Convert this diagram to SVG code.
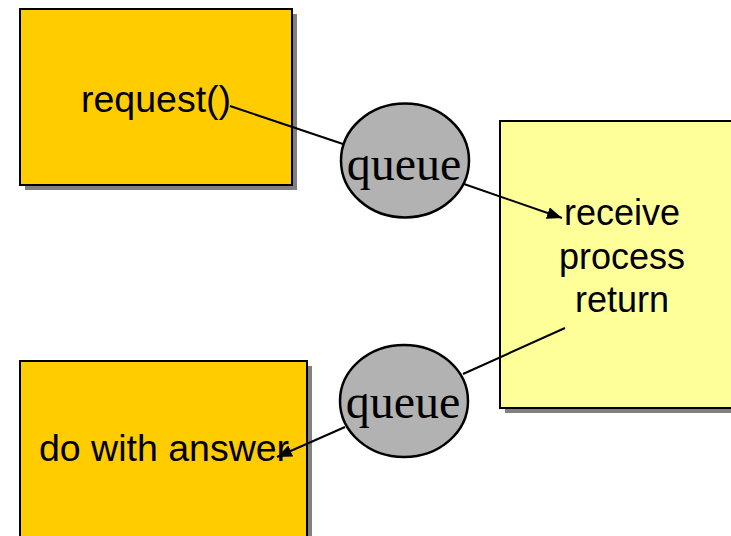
<svg xmlns="http://www.w3.org/2000/svg" width="731" height="536" viewBox="0 0 731 536">
<style>
.shadow{fill:#808080}
.box{stroke:#000;stroke-width:2}
.orange{fill:#FFCC00}
.yellow{fill:#FFFF99}
.lbl{font-family:"Liberation Sans",Arial,sans-serif;font-size:36px;fill:#000;text-anchor:middle}
.big{font-size:37.5px}
.q{fill:#B2B2B2;stroke:#000;stroke-width:2.5}
.qt{font-family:"Liberation Serif","Times New Roman",serif;font-size:48px;fill:#000;text-anchor:middle}
.conn{stroke:#000;stroke-width:2;fill:none}
</style>
<defs>
<marker id="arr" markerUnits="userSpaceOnUse" markerWidth="16" markerHeight="12" refX="15" refY="6" orient="auto">
<path d="M0,0 L15,6 L0,12 Z" fill="#000"/>
</marker>
</defs>
<g id="node-request">
<rect class="shadow" x="25" y="14" width="272" height="176"/>
<rect class="box orange" x="20" y="9" width="272" height="176"/>
<text class="lbl big" x="156" y="112">request()</text>
</g>
<g id="node-server">
<rect class="shadow" x="505" y="126" width="240" height="287"/>
<rect class="box yellow" x="500" y="121" width="240" height="287"/>
<text class="lbl" x="622" y="225">receive</text>
<text class="lbl" x="622" y="269">process</text>
<text class="lbl" x="622" y="312">return</text>
</g>
<g id="node-answer">
<rect class="shadow" x="25" y="366" width="287" height="180"/>
<rect class="box orange" x="20" y="361" width="287" height="180"/>
<text class="lbl big" x="164" y="461">do with answer</text>
</g>
<g id="connectors">
<line class="conn" x1="230" y1="106" x2="343" y2="144"/>
<line class="conn" x1="464" y1="184" x2="562" y2="218" marker-end="url(#arr)"/>
<line class="conn" x1="565" y1="328" x2="463" y2="374"/>
<line class="conn" x1="345" y1="427" x2="277" y2="457" marker-end="url(#arr)"/>
</g>
<g id="node-queue1">
<ellipse class="q" cx="405" cy="160.5" rx="64" ry="57"/>
<text class="qt" x="404" y="180">queue</text>
</g>
<g id="node-queue2">
<ellipse class="q" cx="404" cy="401" rx="64" ry="56"/>
<text class="qt" x="403" y="418">queue</text>
</g>
</svg>
